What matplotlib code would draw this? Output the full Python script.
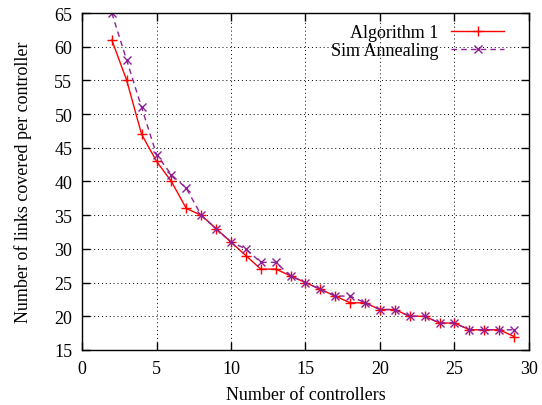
import matplotlib
matplotlib.use("Agg")
import matplotlib.pyplot as plt

controllers = list(range(2, 30))
algorithm1 = [61, 55, 47, 43, 40, 36, 35, 33, 31, 29, 27, 27, 26, 25, 24, 23, 22, 22, 21, 21, 20, 20, 19, 19, 18, 18, 18, 17]
sim_annealing = [65, 58, 51, 44, 41, 39, 35, 33, 31, 30, 28, 28, 26, 25, 24, 23, 23, 22, 21, 21, 20, 20, 19, 19, 18, 18, 18, 18]
x_ticks = [0, 5, 10, 15, 20, 25, 30]
y_ticks = [15, 20, 25, 30, 35, 40, 45, 50, 55, 60, 65]

plt.rcParams['font.family'] = ['Liberation Serif', 'DejaVu Serif']
fig = plt.figure(figsize=(5.42, 4.06), dpi=100)
ax = fig.add_axes([0.1513, 0.1355, 0.8247, 0.83])

ax.plot(controllers, algorithm1, color='#ff0000', lw=1.0, marker='+', ms=7, mew=1.0, label='Algorithm 1')
ax.plot(controllers, sim_annealing, color='#8e1f96', lw=1.0, ls=(0, (4, 3)), marker='x', ms=6, mew=1.0, label='Sim Annealing')

ax.set_xlim(0, 30)
ax.set_ylim(15, 65)
ax.set_xticks(x_ticks)
ax.set_yticks(y_ticks)
ax.tick_params(direction='in', top=True, right=True, length=6, width=1.0, labelsize=13, pad=7)
ax.grid(True, color='black', ls=(0, (1, 3)), lw=0.7)
for s in ax.spines.values():
    s.set_linewidth(1.0)

ax.set_xlabel('Number of controllers', fontsize=13, labelpad=7)
ax.set_ylabel('Number of links covered per controller', fontsize=13, labelpad=16)

leg = ax.legend(loc='upper right', bbox_to_anchor=(0.980, 1.015), frameon=False, markerfirst=False, fontsize=13,
                handlelength=2.9, borderaxespad=0.6, borderpad=0.3, labelspacing=0.05, handletextpad=0.7)
for t in leg.get_texts():
    t.set_ha('right')
leg._legend_box.align = 'right'

fig.savefig('out.png', dpi=100)
